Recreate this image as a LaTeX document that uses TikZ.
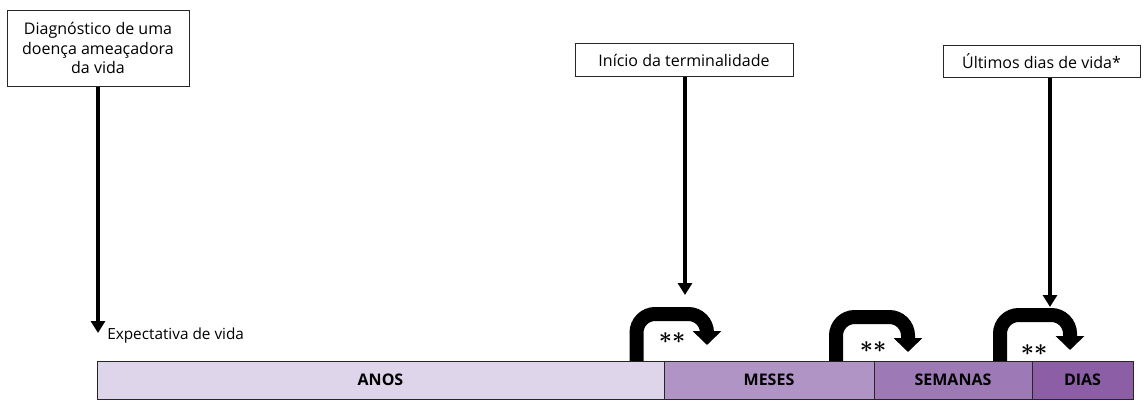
\documentclass[tikz,border=0pt]{standalone}
\usepackage{fontspec}
\setmainfont{Open Sans}
\usetikzlibrary{arrows.meta,positioning}
\definecolor{anos}{RGB}{222,213,234}
\definecolor{meses}{RGB}{177,148,198}
\definecolor{semanas}{RGB}{157,122,181}
\definecolor{dias}{RGB}{140,94,166}
\tikzset{
  evento/.style = {draw=black!85, fill=white, line width=0.75pt, align=center,
    inner sep=0pt, font=\fontsize{12}{14.5}\selectfont},
  seta/.style = {line width=3.5pt, -{Triangle[width=10.5pt,length=9pt]}},
  volta/.style = {line width=10.5pt, rounded corners=14pt,
    -{Triangle[width=21pt,length=10.5pt]}},
  fase/.style = {draw=black!85, line width=0.75pt, inner sep=0pt, outer sep=0pt,
    minimum height=38*0.75pt, font=\bfseries\fontsize{12}{14}\selectfont},
  estrelas/.style = {inner sep=0pt, font=\fontsize{18}{18}\selectfont\boldmath}
}
\begin{document}
\begin{tikzpicture}[x=0.75pt, y=-0.75pt]
\useasboundingbox (0,0) rectangle (1146,400);
\node[evento, minimum width=182*0.75pt, minimum height=76*0.75pt] (diag) at (98,48)
  {Diagnóstico de uma\\doença ameaçadora\\da vida};
\node[evento, minimum width=218*0.75pt, minimum height=33*0.75pt] (inicio) at (684,60)
  {Início da terminalidade};
\node[evento, minimum width=197*0.75pt, minimum height=32*0.75pt] (ultimos) at (1041.5,61)
  {Últimos dias de vida*};

\node[fase, fill=anos, minimum width=567*0.75pt, anchor=north west] (anos) at (97,361) {ANOS};
\node[fase, fill=meses, minimum width=210*0.75pt, right=0pt of anos] (meses) {MESES};
\node[fase, fill=semanas, minimum width=158*0.75pt, right=0pt of meses] (semanas) {SEMANAS};
\node[fase, fill=dias, minimum width=101*0.75pt, right=0pt of semanas] (dias) {DIAS};

\node[anchor=west, inner sep=0pt, font=\fontsize{11.5}{13}\selectfont] (expvida) at (107,336)
  {Expectativa de vida};
\coordinate (fim1) at (98,333);
\coordinate (fim2) at (685,295);
\coordinate (fim3) at (1050,307);
\draw[seta] (diag.south) -- (fim1);
\draw[seta] (fim2 |- inicio.south) -- (fim2);
\draw[seta] (fim3 |- ultimos.south) -- (fim3);

\draw[volta] (636.5,361) |- (707,314) -- (707,345);
\draw[volta] (836,361) |- (908,317) -- (908,352);
\draw[volta] (1000,361) |- (1070,315) -- (1070,350);

\node[estrelas] (ast1) at (672,338) {$\ast\ast$};
\node[estrelas] (ast2) at (873,347) {$\ast\ast$};
\node[estrelas] (ast3) at (1034,350) {$\ast\ast$};
\end{tikzpicture}
\end{document}
